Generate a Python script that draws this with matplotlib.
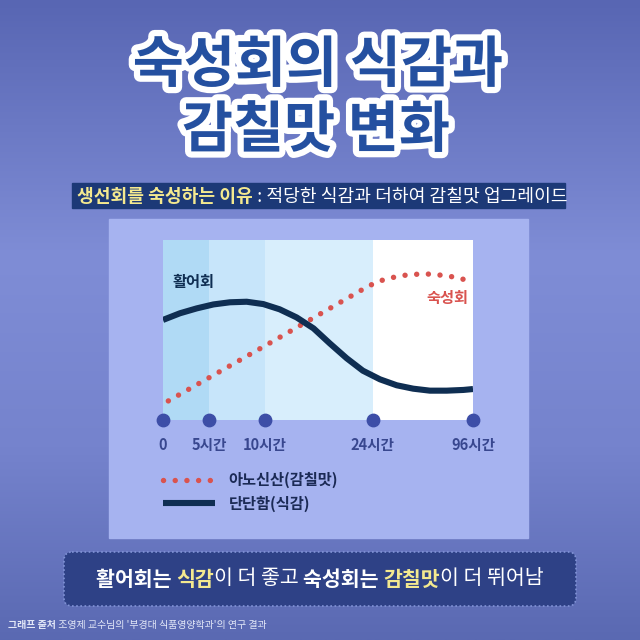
import matplotlib
matplotlib.use("Agg")
import matplotlib.pyplot as plt
import matplotlib.patheffects as pe
import numpy as np
from matplotlib.patches import Rectangle, FancyBboxPatch
from matplotlib.colors import LinearSegmentedColormap

plt.rcParams["font.family"] = ["Noto Sans CJK KR", "DejaVu Sans"]

# timeline ticks (hours) and their place along the drawn axis (0..1)
tick_hours = [0, 5, 10, 24, 96]
tick_labels = ["0", "5시간", "10시간", "24시간", "96시간"]
tick_place = [0, 0.148, 0.329, 0.677, 1.0]

# firmness (texture) curve
firm_h = [0, 1.85, 3.67, 5.4, 6.88, 8.37, 9.85, 11.9, 14.1, 16.3, 18.4, 20.6,
          22.7, 29.1, 41.1, 53.0, 65.0, 77.1, 89.1, 96]
firm_v = [0.556, 0.593, 0.620, 0.642, 0.654, 0.657, 0.644, 0.615, 0.570, 0.509,
          0.426, 0.343, 0.274, 0.226, 0.193, 0.174, 0.163, 0.163, 0.167, 0.172]

# inosinic acid (umami) curve
umami_h = [0.58, 10.4, 23.3, 27.5, 34.9, 50.7, 66.7, 82.8, 90.9]
umami_v = [0.106, 0.422, 0.741, 0.768, 0.787, 0.809, 0.811, 0.794, 0.778]

band_edges = [0, 5, 10, 24, 96]
band_colors = ["#b0daf5", "#c7e5fa", "#d8eefc", "#ffffff"]

NAVY = "#0f2e52"
RED = "#d9534f"

fig = plt.figure(figsize=(6.4, 6.4), dpi=100)

# ---- background layer in pixel coords
bg = fig.add_axes([0, 0, 1, 1])
bg.set_xlim(0, 640)
bg.set_ylim(640, 0)
bg.axis("off")
cmap = LinearSegmentedColormap.from_list(
    "bg", [(0, "#5866b3"), (0.4, "#7f8dd6"), (0.7, "#7583cd"), (1, "#5a69b2")])
grad = np.linspace(0, 1, 256)[:, None]
bg.imshow(grad, cmap=cmap, extent=(0, 640, 640, 0), aspect="auto", zorder=0)

# title
title_fx = [pe.withStroke(linewidth=9, foreground="white")]
bg.text(318, 66, "숙성회의 식감과", fontsize=40, fontweight="bold", color="#2450a0",
        ha="center", va="center", path_effects=title_fx)
bg.text(316, 131, "감칠맛 변화", fontsize=40, fontweight="bold", color="#2450a0",
        ha="center", va="center", path_effects=title_fx)

# subtitle bar
bg.add_patch(Rectangle((72, 183), 493, 25, color="#1c3977", zorder=1))
t1 = bg.text(77, 196, "생선회를 숙성하는 이유", fontsize=13.1, fontweight="bold",
             color="#f4e98f", va="center", zorder=2)
bg.annotate(" : 적당한 식감과 더하여 감칠맛 업그레이드", xy=(1, 0), xycoords=t1,
            va="bottom", ha="left", fontsize=13.1, color="white", zorder=2)

# chart panel
bg.add_patch(Rectangle((109, 219), 419, 319, color="#a6b3f0", zorder=1))

# bottom summary box
bg.add_patch(FancyBboxPatch((64, 552), 512, 54, boxstyle="round,pad=0,rounding_size=8",
                            facecolor="#2e4186", edgecolor="#8193d6", linewidth=1.2,
                            linestyle=(0, (1, 1.5)), zorder=1))
parts = [("활어회는 ", "white", "bold"), ("식감", "#f4e98f", "bold"),
         ("이 더 좋고 ", "white", "normal"), ("숙성회는 ", "white", "bold"),
         ("감칠맛", "#f4e98f", "bold"), ("이 더 뛰어남", "white", "normal")]
first = bg.text(0, 579, parts[0][0], fontsize=14.8, color=parts[0][1],
                fontweight=parts[0][2], va="center", zorder=2)
prev = first
chain = [first]
for txt, col, wt in parts[1:]:
    prev = bg.annotate(txt, xy=(1, 0), xycoords=prev, va="bottom", ha="left",
                       fontsize=14.8, color=col, fontweight=wt, zorder=2)
    chain.append(prev)

# footer
f1 = bg.text(8, 625, "그래프 출처", fontsize=7.2, fontweight="bold", color="#e2e7f7",
             va="center")
bg.annotate(" 조영제 교수님의 '부경대 식품영양학과'의 연구 결과", xy=(1, 0), xycoords=f1,
            va="bottom", ha="left", fontsize=7.2, color="#e2e7f7")

# ---- chart axes
ax = fig.add_axes([163 / 640, 220 / 640, 310 / 640, 180 / 640])
ax.set_xscale("function", functions=(
    lambda h: np.interp(h, tick_hours, tick_place),
    lambda p: np.interp(p, tick_place, tick_hours)))
ax.set_xlim(0, 96)
ax.set_ylim(0, 1)
for s in ax.spines.values():
    s.set_visible(False)

for i, c in enumerate(band_colors):
    ax.axvspan(band_edges[i], band_edges[i + 1], color=c, lw=0, zorder=0)

ax.plot(umami_h, umami_v, color=RED, lw=3.9, dashes=(0.01, 2.15),
        dash_capstyle="round", label="아노신산(감칠맛)", zorder=3)
ax.plot(firm_h, firm_v, color=NAVY, lw=4.4, solid_capstyle="butt",
        label="단단함(식감)", zorder=4)

ax.scatter(tick_hours, [0] * len(tick_hours), s=80, color="#3d4ea7",
           clip_on=False, zorder=5)
ax.set_xticks(tick_hours, tick_labels)
ax.set_yticks([])
ax.tick_params(axis="x", length=0, pad=12, labelsize=10.5, labelcolor="#38478f")
for lab in ax.get_xticklabels():
    lab.set_fontweight("bold")

ax.text(0.03, 0.765, "활어회", transform=ax.transAxes, fontsize=11, color=NAVY,
        fontweight="bold", va="center")
ax.text(0.985, 0.68, "숙성회", transform=ax.transAxes, fontsize=11, color=RED,
        fontweight="bold", va="center", ha="right")

leg = ax.legend(loc="upper left", bbox_to_anchor=(0, -0.29), frameon=False,
                fontsize=11, handlelength=3.4, handletextpad=0.9, borderpad=0,
                borderaxespad=0, labelspacing=0.45)
for t in leg.get_texts():
    t.set_color("#1b2a55")
    t.set_fontweight("bold")

# center the summary line
fig.canvas.draw()
r = fig.canvas.get_renderer()
x0 = chain[0].get_window_extent(r).x0
x1 = chain[-1].get_window_extent(r).x1
first.set_x(320 - (x1 - x0) / 2)

fig.savefig("out.png", dpi=100)
